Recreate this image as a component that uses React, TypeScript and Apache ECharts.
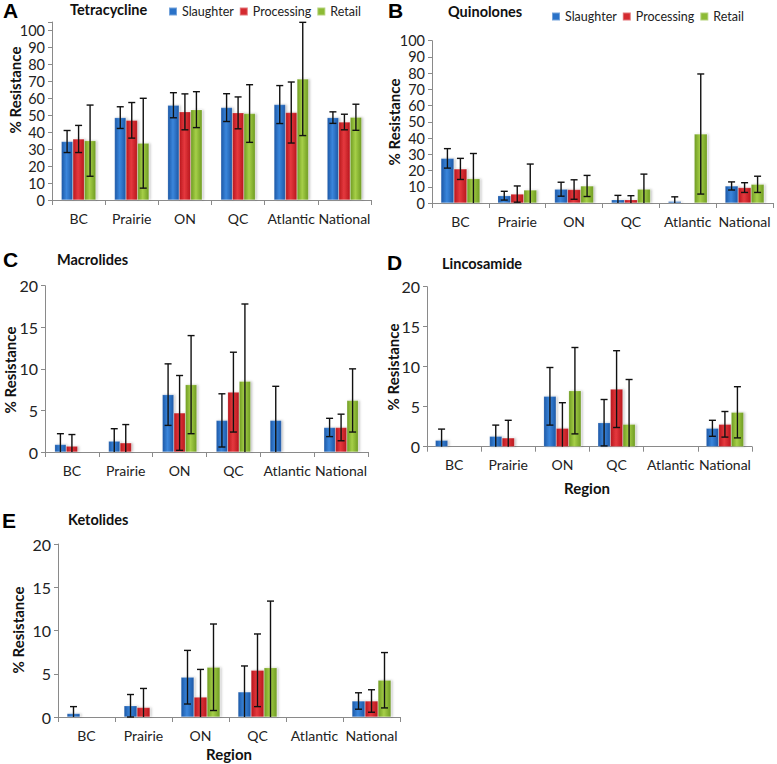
import React, { useEffect, useRef } from "react";
import * as echarts from "echarts";

// ---------- DATA ----------
const regions = ["BC", "Prairie", "ON", "QC", "Atlantic", "National"];
const seriesNames = ["Slaughter", "Processing", "Retail"];

// A Tetracycline
const tetraSlaughter = [34.5, 48.6, 55.9, 54.5, 56.3, 48.6];
const tetraSlaughterErr = [6.5, 6.4, 7.4, 8.2, 11.2, 3.4];
const tetraProcessing = [36, 47, 52, 51.4, 51.6, 46];
const tetraProcessingErr = [8, 10.5, 10.6, 9.4, 18, 4.6];
const tetraRetail = [35, 33.5, 53.3, 51, 71.4, 48.8];
const tetraRetailErr = [21, 26.5, 10.6, 17, 33.4, 7.7];

// B Quinolones
const quinSlaughter = [27.5, 4.5, 8.5, 2, 1, 10.5];
const quinSlaughterErr = [6, 2.7, 4.3, 2.7, 2.8, 2.5];
const quinProcessing = [21, 5.5, 8.3, 2, 0, 9.5];
const quinProcessingErr = [6.5, 5, 6, 2.5, 0, 3];
const quinRetail = [15, 8, 10.5, 8.5, 42.5, 11.5];
const quinRetailErr = [15.5, 16, 6.5, 9.3, 37, 5];

// C Macrolides
const macSlaughter = [0.9, 1.3, 6.9, 3.8, 3.8, 2.95];
const macSlaughterErr = [1.3, 1.5, 3.7, 3.2, 4.1, 1.1];
const macProcessing = [0.7, 1.1, 4.7, 7.2, 0, 2.95];
const macProcessingErr = [1.4, 2.2, 4.5, 4.8, 0, 1.6];
const macRetail = [0, 0, 8.1, 8.5, 0, 6.2];
const macRetailErr = [0, 0, 5.9, 9.3, 0, 3.8];

// D Lincosamide
const lincSlaughter = [0.8, 1.3, 6.3, 3, 0, 2.3];
const lincSlaughterErr = [1.4, 1.4, 3.6, 2.9, 0, 1];
const lincProcessing = [0, 1.1, 2.3, 7.2, 0, 2.8];
const lincProcessingErr = [0, 2.2, 3.2, 4.8, 0, 1.6];
const lincRetail = [0, 0, 7, 2.8, 0, 4.3];
const lincRetailErr = [0, 0, 5.4, 5.6, 0, 3.2];

// E Ketolides
const ketoSlaughter = [0.4, 1.3, 4.6, 2.9, 0, 1.85];
const ketoSlaughterErr = [0.8, 1.3, 3.1, 3, 0, 0.95];
const ketoProcessing = [0, 1.1, 2.3, 5.4, 0, 1.85];
const ketoProcessingErr = [0, 2.2, 3.2, 4.2, 0, 1.3];
const ketoRetail = [0, 0, 5.75, 5.7, 0, 4.25];
const ketoRetailErr = [0, 0, 5, 7.7, 0, 3.2];

const yTicksA = { max: 105, interval: 10 };
const yTicksB = { max: 100, interval: 10 };
const yTicksSmall = { max: 20, interval: 5 };

// ---------- LAYOUT ----------
const FONT = "Lato, 'Open Sans', sans-serif";

const panels = [
  {
    letter: "A", title: "Tetracycline",
    grid: { left: 52, top: 22, width: 319, height: 178 },
    ticks: yTicksA, barWidth: 11.5, ySize: 14.5,
    values: [tetraSlaughter, tetraProcessing, tetraRetail],
    errs: [tetraSlaughterErr, tetraProcessingErr, tetraRetailErr],
    letterPos: [3, 10], titlePos: [70, 9], yName: [15, 90], region: null,
  },
  {
    letter: "B", title: "Quinolones",
    grid: { left: 432, top: 40.7, width: 341, height: 162.3 },
    ticks: yTicksB, barWidth: 13, ySize: 14.5,
    values: [quinSlaughter, quinProcessing, quinRetail],
    errs: [quinSlaughterErr, quinProcessingErr, quinRetailErr],
    letterPos: [388, 10], titlePos: [448, 11], yName: [394, 122], region: null,
  },
  {
    letter: "C", title: "Macrolides",
    grid: { left: 45, top: 285.7, width: 323, height: 166.3 },
    ticks: yTicksSmall, barWidth: 11.5, ySize: 16,
    values: [macSlaughter, macProcessing, macRetail],
    errs: [macSlaughterErr, macProcessingErr, macRetailErr],
    letterPos: [3, 259], titlePos: [57, 259], yName: [10, 370], region: null,
  },
  {
    letter: "D", title: "Lincosamide",
    grid: { left: 427, top: 286.7, width: 325, height: 160 },
    ticks: yTicksSmall, barWidth: 12.5, ySize: 16,
    values: [lincSlaughter, lincProcessing, lincRetail],
    errs: [lincSlaughterErr, lincProcessingErr, lincRetailErr],
    letterPos: [387, 262], titlePos: [442, 263], yName: [393, 367], region: [587, 488],
  },
  {
    letter: "E", title: "Ketolides",
    grid: { left: 58, top: 544, width: 342, height: 173 },
    ticks: yTicksSmall, barWidth: 13, ySize: 16,
    values: [ketoSlaughter, ketoProcessing, ketoRetail],
    errs: [ketoSlaughterErr, ketoProcessingErr, ketoRetailErr],
    letterPos: [2, 520], titlePos: [68, 519], yName: [18, 630], region: [229, 754],
  },
];

const grad = (edge: string, mid: string) =>
  new echarts.graphic.LinearGradient(0, 0, 1, 0, [
    { offset: 0, color: edge },
    { offset: 0.45, color: mid },
    { offset: 1, color: edge },
  ]);

const barColors = [
  () => grad("#1d58a6", "#3a86dc"),
  () => grad("#b8171d", "#e5393e"),
  () => grad("#6f9c22", "#a6cf48"),
];
const legendColors = ["#2a72c8", "#d42a30", "#8dbb35"];

export default function App() {
  const ref = useRef<HTMLDivElement>(null);

  useEffect(() => {
    if (!ref.current) return;
    const chart = echarts.init(ref.current, undefined, { renderer: "svg" });

    const grids: any[] = [];
    const xAxes: any[] = [];
    const yAxes: any[] = [];
    const series: any[] = [];
    const graphics: any[] = [];

    panels.forEach((p, gi) => {
      grids.push({ ...p.grid, containLabel: false });
      xAxes.push({
        type: "category",
        gridIndex: gi,
        data: regions,
        axisLine: { show: true, lineStyle: { color: "#8a8a8a", width: 1 } },
        axisTick: { show: true, interval: 0, length: 5, lineStyle: { color: "#8a8a8a" } },
        axisLabel: { color: "#222", fontSize: 14, fontFamily: FONT, margin: 11, interval: 0 },
        splitLine: { show: false },
      });
      yAxes.push({
        type: "value",
        gridIndex: gi,
        min: 0,
        max: p.ticks.max,
        interval: p.ticks.interval,
        axisLine: { show: true, lineStyle: { color: "#8a8a8a", width: 1 } },
        axisTick: { show: true, length: 4, lineStyle: { color: "#8a8a8a" } },
        axisLabel: {
          color: "#222",
          fontSize: p.ySize,
          fontFamily: FONT,
          margin: 7,
          formatter: (v: number) => (v % p.ticks.interval === 0 ? String(v) : ""),
        },
        splitLine: { show: false },
      });

      p.values.forEach((vals, si) => {
        series.push({
          type: "bar",
          name: seriesNames[si],
          xAxisIndex: gi,
          yAxisIndex: gi,
          data: vals,
          barWidth: p.barWidth,
          barGap: "0%",
          itemStyle: {
            color: barColors[si](),
            borderColor: "rgba(255,255,255,0.35)",
            borderWidth: 0.5,
            shadowColor: "rgba(0,0,0,0.25)",
            shadowBlur: 2,
            shadowOffsetX: 1.5,
          },
          emphasis: { disabled: true },
        });
      });

      p.values.forEach((vals, si) => {
        const offset = (si - 1) * p.barWidth;
        const ymax = p.ticks.max;
        series.push({
          type: "custom",
          name: seriesNames[si],
          xAxisIndex: gi,
          yAxisIndex: gi,
          data: vals.map((v, i) => [i, v, p.errs[si][i]]),
          encode: { x: 0, y: 1 },
          z: 5,
          silent: true,
          renderItem: (params: any, api: any) => {
            const idx = api.value(0);
            const v = api.value(1);
            const e = api.value(2);
            if (!(e > 0)) return null;
            const lo = v - e;
            const hi = v + e;
            const x = api.coord([idx, v])[0] + offset;
            const yTop = api.coord([idx, Math.min(hi, ymax)])[1];
            const yBot = api.coord([idx, Math.max(lo, 0)])[1];
            const cap = 3.5;
            const st = { stroke: "#111", lineWidth: 1.4 };
            const children: any[] = [
              { type: "line", shape: { x1: x, y1: yTop, x2: x, y2: yBot }, style: st },
            ];
            if (hi <= ymax) children.push({ type: "line", shape: { x1: x - cap, y1: yTop, x2: x + cap, y2: yTop }, style: st });
            if (lo >= 0) children.push({ type: "line", shape: { x1: x - cap, y1: yBot, x2: x + cap, y2: yBot }, style: st });
            return { type: "group", children };
          },
        });
      });

      graphics.push({
        type: "text",
        left: p.letterPos[0],
        top: p.letterPos[1] - 10,
        style: { text: p.letter, font: "bold 21px 'Liberation Sans', Arial, sans-serif", fill: "#000" },
      });
      graphics.push({
        type: "text",
        x: p.titlePos[0],
        y: p.titlePos[1],
        style: { text: p.title, font: `bold 14.5px ${FONT}`, fill: "#111", verticalAlign: "middle", align: "left" },
      });
      graphics.push({
        type: "text",
        x: p.yName[0],
        y: p.yName[1],
        rotation: Math.PI / 2,
        style: { text: "% Resistance", font: `bold 15px ${FONT}`, fill: "#111", align: "center", verticalAlign: "middle" },
      });
      if (p.region) {
        graphics.push({
          type: "text",
          x: p.region[0],
          y: p.region[1],
          style: { text: "Region", font: `bold 15px ${FONT}`, fill: "#111", align: "center", verticalAlign: "middle" },
        });
      }
    });

    const legendBase = {
      data: seriesNames.map((n, i) => ({ name: n, itemStyle: { color: legendColors[i] } })),
      icon: "rect",
      itemWidth: 8,
      itemHeight: 8,
      itemGap: 5,
      orient: "horizontal",
      textStyle: { fontSize: 12.5, fontFamily: FONT, color: "#222" },
      selectedMode: false,
    };

    chart.setOption({
      animation: false,
      backgroundColor: "#fff",
      legend: [
        { ...legendBase, left: 163, top: 0 },
        { ...legendBase, left: 546, top: 5 },
      ],
      grid: grids,
      xAxis: xAxes,
      yAxis: yAxes,
      series,
      graphic: graphics,
    });

    return () => chart.dispose();
  }, []);

  return (
    <div
      ref={ref}
      style={{ position: "fixed", left: 0, top: 0, width: 777, height: 764, background: "#fff" }}
    />
  );
}
